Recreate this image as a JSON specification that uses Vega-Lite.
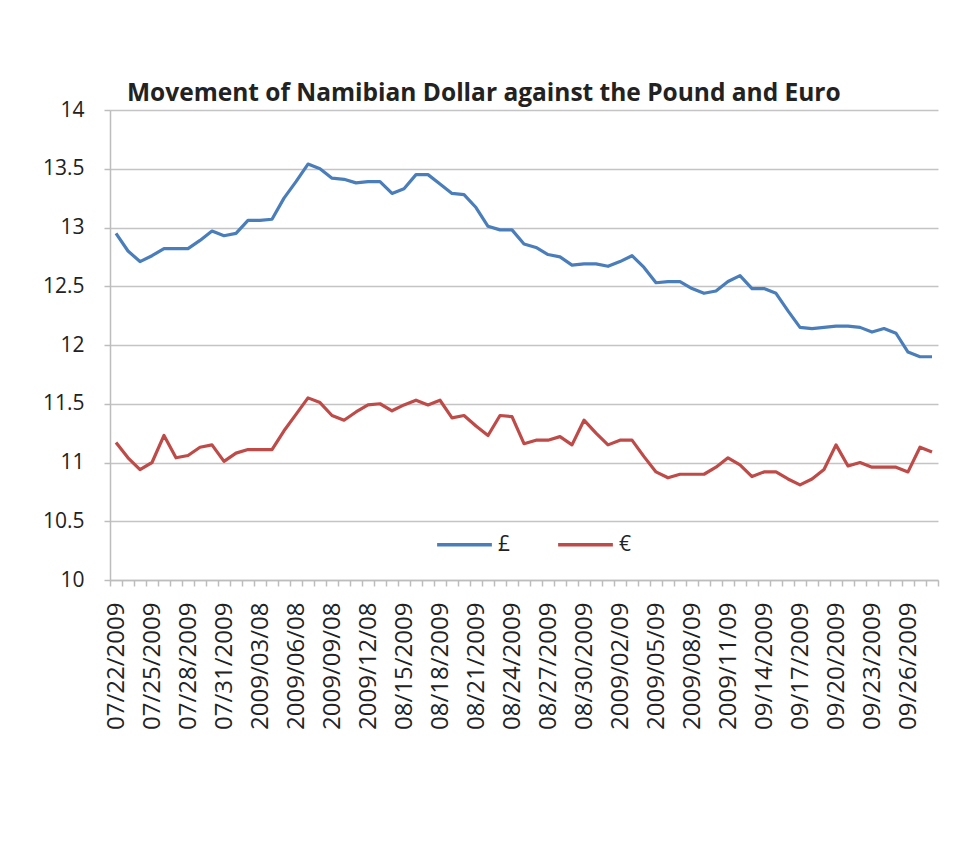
{
  "$schema": "https://vega.github.io/schema/vega-lite/v6.json",
  "width": 828,
  "height": 470,
  "autosize": {"type": "none"},
  "padding": {"left": 110, "top": 110, "right": 18, "bottom": 261},
  "background": "white",
  "title": {
    "text": "Movement of Namibian Dollar against the Pound and Euro",
    "anchor": "start",
    "frame": "group",
    "dx": 17,
    "offset": -26,
    "baseline": "alphabetic",
    "font": "Open Sans",
    "fontSize": 24.5,
    "fontWeight": "bold",
    "color": "#222222"
  },
  "data": {
    "values": [
      {"date": "07/22/2009", "£": 12.95, "€": 11.17},
      {"date": "07/23/2009", "£": 12.80, "€": 11.04},
      {"date": "07/24/2009", "£": 12.71, "€": 10.94},
      {"date": "07/25/2009", "£": 12.76, "€": 11.00},
      {"date": "07/26/2009", "£": 12.82, "€": 11.23},
      {"date": "07/27/2009", "£": 12.82, "€": 11.04},
      {"date": "07/28/2009", "£": 12.82, "€": 11.06},
      {"date": "07/29/2009", "£": 12.89, "€": 11.13},
      {"date": "07/30/2009", "£": 12.97, "€": 11.15},
      {"date": "07/31/2009", "£": 12.93, "€": 11.01},
      {"date": "2009/01/08", "£": 12.95, "€": 11.08},
      {"date": "2009/02/08", "£": 13.06, "€": 11.11},
      {"date": "2009/03/08", "£": 13.06, "€": 11.11},
      {"date": "2009/04/08", "£": 13.07, "€": 11.11},
      {"date": "2009/05/08", "£": 13.25, "€": 11.27},
      {"date": "2009/06/08", "£": 13.39, "€": 11.41},
      {"date": "2009/07/08", "£": 13.54, "€": 11.55},
      {"date": "2009/08/08", "£": 13.50, "€": 11.51},
      {"date": "2009/09/08", "£": 13.42, "€": 11.40},
      {"date": "2009/10/08", "£": 13.41, "€": 11.36},
      {"date": "2009/11/08", "£": 13.38, "€": 11.43},
      {"date": "2009/12/08", "£": 13.39, "€": 11.49},
      {"date": "08/13/2009", "£": 13.39, "€": 11.50},
      {"date": "08/14/2009", "£": 13.29, "€": 11.44},
      {"date": "08/15/2009", "£": 13.33, "€": 11.49},
      {"date": "08/16/2009", "£": 13.45, "€": 11.53},
      {"date": "08/17/2009", "£": 13.45, "€": 11.49},
      {"date": "08/18/2009", "£": 13.37, "€": 11.53},
      {"date": "08/19/2009", "£": 13.29, "€": 11.38},
      {"date": "08/20/2009", "£": 13.28, "€": 11.40},
      {"date": "08/21/2009", "£": 13.17, "€": 11.31},
      {"date": "08/22/2009", "£": 13.01, "€": 11.23},
      {"date": "08/23/2009", "£": 12.98, "€": 11.40},
      {"date": "08/24/2009", "£": 12.98, "€": 11.39},
      {"date": "08/25/2009", "£": 12.86, "€": 11.16},
      {"date": "08/26/2009", "£": 12.83, "€": 11.19},
      {"date": "08/27/2009", "£": 12.77, "€": 11.19},
      {"date": "08/28/2009", "£": 12.75, "€": 11.22},
      {"date": "08/29/2009", "£": 12.68, "€": 11.15},
      {"date": "08/30/2009", "£": 12.69, "€": 11.36},
      {"date": "08/31/2009", "£": 12.69, "€": 11.25},
      {"date": "2009/01/09", "£": 12.67, "€": 11.15},
      {"date": "2009/02/09", "£": 12.71, "€": 11.19},
      {"date": "2009/03/09", "£": 12.76, "€": 11.19},
      {"date": "2009/04/09", "£": 12.66, "€": 11.05},
      {"date": "2009/05/09", "£": 12.53, "€": 10.92},
      {"date": "2009/06/09", "£": 12.54, "€": 10.87},
      {"date": "2009/07/09", "£": 12.54, "€": 10.90},
      {"date": "2009/08/09", "£": 12.48, "€": 10.90},
      {"date": "2009/09/09", "£": 12.44, "€": 10.90},
      {"date": "2009/10/09", "£": 12.46, "€": 10.96},
      {"date": "2009/11/09", "£": 12.54, "€": 11.04},
      {"date": "2009/12/09", "£": 12.59, "€": 10.98},
      {"date": "09/13/2009", "£": 12.48, "€": 10.88},
      {"date": "09/14/2009", "£": 12.48, "€": 10.92},
      {"date": "09/15/2009", "£": 12.44, "€": 10.92},
      {"date": "09/16/2009", "£": 12.29, "€": 10.86},
      {"date": "09/17/2009", "£": 12.15, "€": 10.81},
      {"date": "09/18/2009", "£": 12.14, "€": 10.86},
      {"date": "09/19/2009", "£": 12.15, "€": 10.94},
      {"date": "09/20/2009", "£": 12.16, "€": 11.15},
      {"date": "09/21/2009", "£": 12.16, "€": 10.97},
      {"date": "09/22/2009", "£": 12.15, "€": 11.00},
      {"date": "09/23/2009", "£": 12.11, "€": 10.96},
      {"date": "09/24/2009", "£": 12.14, "€": 10.96},
      {"date": "09/25/2009", "£": 12.10, "€": 10.96},
      {"date": "09/26/2009", "£": 11.94, "€": 10.92},
      {"date": "09/27/2009", "£": 11.90, "€": 11.13},
      {"date": "09/28/2009", "£": 11.90, "€": 11.09}
    ]
  },
  "transform": [{"fold": ["£", "€"], "as": ["cur", "rate"]}],
  "mark": {"type": "line", "strokeWidth": 3.2, "strokeJoin": "round"},
  "encoding": {
    "x": {
      "field": "date",
      "type": "ordinal",
      "sort": null,
      "bandPosition": 0.5,
      "scale": {"type": "band", "paddingInner": 0, "paddingOuter": 0},
      "axis": {
        "title": null,
        "tickBand": "extent",
        "labelAngle": 270,
        "labelAlign": "right",
        "labelBaseline": "middle",
        "labelPadding": 16,
        "labelOverlap": false,
        "labelFont": "Open Sans",
        "labelFontSize": 24,
        "labelColor": "#222222",
        "labelExpr": "indexof(['07/22/2009','07/25/2009','07/28/2009','07/31/2009','2009/03/08','2009/06/08','2009/09/08','2009/12/08','08/15/2009','08/18/2009','08/21/2009','08/24/2009','08/27/2009','08/30/2009','2009/02/09','2009/05/09','2009/08/09','2009/11/09','09/14/2009','09/17/2009','09/20/2009','09/23/2009','09/26/2009'], datum.value) >= 0 ? datum.value : ''",
        "domainColor": "#bdbdbd",
        "domainWidth": 1.5,
        "tickColor": "#bdbdbd",
        "tickWidth": 1.5,
        "tickSize": 6,
        "grid": false
      }
    },
    "y": {
      "field": "rate",
      "type": "quantitative",
      "scale": {"domain": [10, 14], "nice": false, "zero": false},
      "axis": {
        "title": null,
        "values": [10, 10.5, 11, 11.5, 12, 12.5, 13, 13.5, 14],
        "format": "~g",
        "labelFont": "Open Sans",
        "labelFontSize": 21,
        "labelColor": "#222222",
        "labelPadding": 20,
        "grid": true,
        "gridColor": "#c4c4c4",
        "gridWidth": 1.5,
        "domainColor": "#bdbdbd",
        "domainWidth": 1.5,
        "tickColor": "#bdbdbd",
        "tickWidth": 1.5,
        "tickSize": 6
      }
    },
    "color": {
      "field": "cur",
      "type": "nominal",
      "scale": {"domain": ["£", "€"], "range": ["#4A7EBB", "#BE4B48"]},
      "legend": {
        "title": null,
        "orient": "none",
        "direction": "horizontal",
        "legendX": 325,
        "legendY": 405,
        "symbolType": "stroke",
        "symbolSize": 3000,
        "symbolStrokeWidth": 3.5,
        "labelFont": "Open Sans",
        "labelFontSize": 21,
        "labelColor": "#222222",
        "labelOffset": 4,
        "columnPadding": 40
      }
    }
  },
  "config": {"view": {"stroke": null}}
}
